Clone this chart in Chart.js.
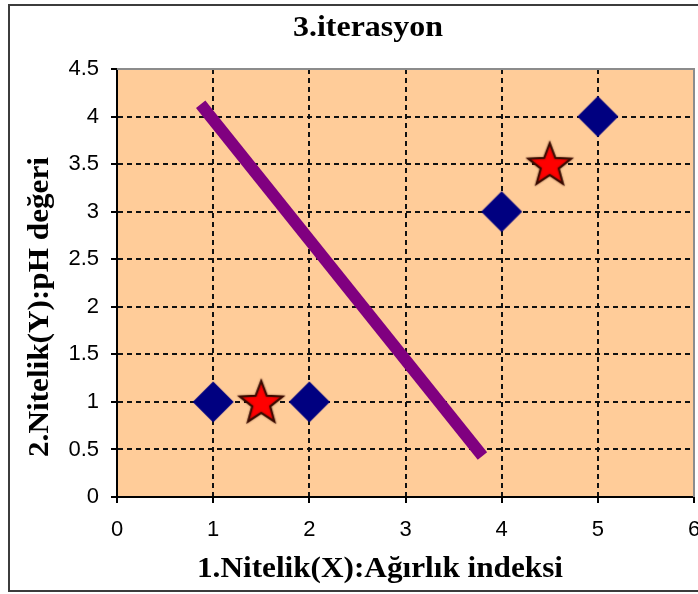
<!DOCTYPE html>
<html>
<head>
<meta charset="utf-8">
<script src="https://cdn.jsdelivr.net/npm/chart.js@4"></script>
<style>
  html, body { margin: 0; padding: 0; background: #fff; overflow: hidden; }
  #wrap { width: 698px; height: 594px; position: relative; }
  canvas { display: block; }
</style>
</head>
<body>
<div id="wrap"><canvas id="kmeans"></canvas></div>
<script>
const ctx = document.getElementById("kmeans").getContext("2d");

// data
const pointsX = [1, 2, 4, 5];
const pointsY = [1, 1, 3, 4];
const centerX = [1.5, 4.5];
const centerY = [1, 3.5];
const borderX = [0.87, 3.8];
const borderY = [4.13, 0.43];
const yTicks = [0, 0.5, 1, 1.5, 2, 2.5, 3, 3.5, 4, 4.5];
const xTicks = [0, 1, 2, 3, 4, 5, 6];

const titleText = "3.iterasyon";
const xTitle = "1.Nitelik(X):Ağırlık indeksi";
const yTitle = "2.Nitelik(Y):pH değeri";

const toXY = (xs, ys) => xs.map((x, i) => ({ x: x, y: ys[i] }));

function diamondImg() {
  const c = document.createElement("canvas");
  c.width = 44;
  c.height = 44;
  const g = c.getContext("2d");
  g.fillStyle = "#000080";
  g.beginPath();
  g.moveTo(22, 1.5);
  g.lineTo(42.5, 22);
  g.lineTo(22, 42.5);
  g.lineTo(1.5, 22);
  g.closePath();
  g.fill();
  return c;
}

function starImg() {
  const c = document.createElement("canvas");
  c.width = 50;
  c.height = 50;
  const g = c.getContext("2d");
  const R = 22.5, r = 9.5;
  g.beginPath();
  for (let i = 0; i < 10; i++) {
    const rad = i % 2 === 0 ? R : r;
    const a = -Math.PI / 2 + (i * Math.PI) / 5;
    const px = 25 + rad * Math.cos(a);
    const py = 26.5 + rad * Math.sin(a);
    if (i === 0) g.moveTo(px, py);
    else g.lineTo(px, py);
  }
  g.closePath();
  g.fillStyle = "#ff0000";
  g.fill();
  g.lineJoin = "miter";
  g.lineWidth = 2;
  g.strokeStyle = "#3a0a00";
  g.shadowColor = "rgba(60,20,0,0.6)";
  g.shadowBlur = 2;
  g.stroke();
  return c;
}

// draws text squeezed/stretched horizontally to the wanted width
function wideText(g, text, x, y, width) {
  const w = g.measureText(text).width;
  g.save();
  g.translate(x, y);
  g.scale(width / w, 1);
  g.fillText(text, 0, 0);
  g.restore();
}

const bgPlugin = {
  id: "bg",
  beforeDraw(chart) {
    const { ctx, chartArea: a } = chart;
    ctx.save();
    ctx.fillStyle = "#ffffff";
    ctx.fillRect(0, 0, chart.width, chart.height);
    ctx.fillStyle = "#ffcc99";
    ctx.fillRect(a.left, a.top, a.right - a.left, a.bottom - a.top);
    ctx.restore();
  },
  afterDraw(chart) {
    const { ctx, chartArea: a } = chart;
    ctx.save();
    // plot frame top/right
    ctx.strokeStyle = "#8c8c8c";
    ctx.lineWidth = 2;
    ctx.beginPath();
    ctx.moveTo(a.left, a.top);
    ctx.lineTo(a.right, a.top);
    ctx.lineTo(a.right, a.bottom);
    ctx.stroke();
    // outer chart border
    ctx.strokeStyle = "#3c3c3c";
    ctx.lineWidth = 2;
    ctx.strokeRect(9, 5, 720, 586);
    // titles
    ctx.fillStyle = "#000";
    ctx.textAlign = "center";
    ctx.textBaseline = "middle";
    ctx.font = "bold 29px 'Liberation Serif', 'Times New Roman', serif";
    wideText(ctx, titleText, 368, 29, 150);
    ctx.font = "bold 30px 'Liberation Serif', 'Times New Roman', serif";
    wideText(ctx, xTitle, 380, 569, 366);
    ctx.translate(40, 307);
    ctx.rotate(-Math.PI / 2);
    wideText(ctx, yTitle, 0, 0, 300);
    ctx.restore();
  },
};

const tickFont = { family: "'Liberation Sans', Arial, sans-serif", size: 22 };

const config = {
  type: "scatter",
  data: {
    datasets: [
      {
        label: "border",
        data: toXY(borderX, borderY),
        showLine: true,
        borderColor: "#800080",
        borderWidth: 12,
        borderCapStyle: "butt",
        pointRadius: 0,
        pointHoverRadius: 0,
      },
      {
        label: "points",
        data: toXY(pointsX, pointsY),
        pointStyle: diamondImg(),
        pointRadius: 20,
      },
      {
        label: "centers",
        data: toXY(centerX, centerY),
        pointStyle: starImg(),
        pointRadius: 22,
      },
    ],
  },
  options: {
    responsive: true,
    maintainAspectRatio: false,
    animation: false,
    layout: { autoPadding: false, padding: { top: 69, left: 0, right: 4, bottom: 0 } },
    scales: {
      x: {
        type: "linear",
        min: 0,
        max: 6,
        afterBuildTicks: (s) => { s.ticks = xTicks.map((v) => ({ value: v })); },
        afterFit: (s) => {
          s.height = 97;
          s.paddingLeft = 0;
          s.paddingRight = 0;
        },
        ticks: {
          font: tickFont,
          color: "#000",
          padding: 14,
          maxRotation: 0,
          callback: (v) => String(v),
        },
        grid: {
          color: (c) => (c.tick && c.tick.value === 6 ? "rgba(0,0,0,0)" : "#111"),
          tickColor: "#000",
          tickLength: 6,
          tickWidth: 2,
          lineWidth: 2,
        },
        border: { display: true, color: "#000", width: 2, dash: [5, 4] },
      },
      y: {
        type: "linear",
        min: 0,
        max: 4.5,
        afterBuildTicks: (s) => { s.ticks = yTicks.map((v) => ({ value: v })); },
        afterFit: (s) => {
          s.width = 117;
          s.paddingTop = 0;
          s.paddingBottom = 0;
        },
        ticks: {
          font: tickFont,
          color: "#000",
          padding: 12,
          callback: (v) => String(v),
        },
        grid: {
          color: (c) => (c.tick && c.tick.value === 4.5 ? "rgba(0,0,0,0)" : "#111"),
          tickColor: "#000",
          tickLength: 6,
          tickWidth: 2,
          lineWidth: 2,
        },
        border: { display: true, color: "#000", width: 2, dash: [5, 4] },
      },
    },
    plugins: {
      legend: { display: false },
      title: { display: false },
      tooltip: { enabled: false },
    },
  },
  plugins: [bgPlugin],
};

const chart = new Chart(ctx, config);
</script>
</body>
</html>
